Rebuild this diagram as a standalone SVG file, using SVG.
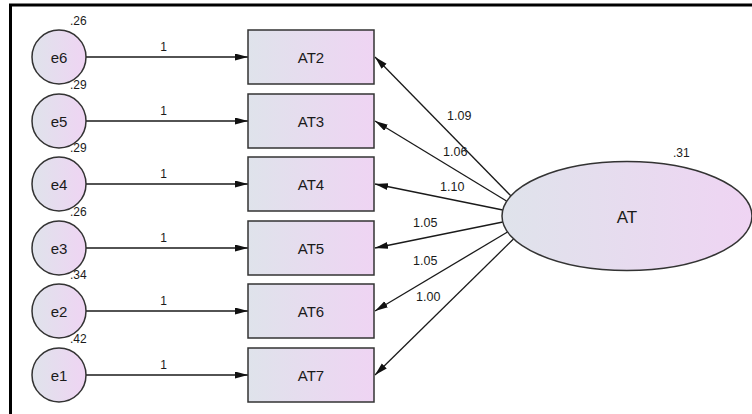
<svg xmlns="http://www.w3.org/2000/svg" width="752" height="414" viewBox="0 0 752 414">
  <style>
    text { font-family: "Liberation Sans", Arial, sans-serif; fill: #1a1a1a; }
    .var { font-size: 12px; }
    .coef { font-size: 12.5px; }
    .one { font-size: 12px; text-anchor: middle; }
    .name { font-size: 15px; text-anchor: middle; }
    .shape { fill: url(#fillGrad); stroke: #333; stroke-width: 1.5; }
    .path { stroke: #1a1a1a; stroke-width: 1.3; fill: none; marker-end: url(#arrow); }
    .frame { stroke: #000; stroke-width: 3; fill: none; }
  </style>
  <defs>
    <linearGradient id="fillGrad" x1="0" y1="0" x2="1" y2="0">
      <stop offset="0" stop-color="#dfe3eb"/>
      <stop offset="1" stop-color="#efd4f3"/>
    </linearGradient>
    <marker id="arrow" markerUnits="userSpaceOnUse" markerWidth="14" markerHeight="8" refX="13" refY="3.5" orient="auto">
      <path d="M0,0 L13,3.5 L0,7 Z" fill="#111"/>
    </marker>
  </defs>

  <rect width="752" height="414" fill="#fff"/>
  <!-- frame: top and left rules -->
  <path class="frame" d="M10.5,414 V5 H752"/>

  <!-- connectors -->
  <g id="connectors">
    <line class="path" x1="86" y1="57" x2="248" y2="57"/>
    <line class="path" x1="86" y1="121" x2="248" y2="121"/>
    <line class="path" x1="86" y1="184" x2="248" y2="184"/>
    <line class="path" x1="86" y1="248" x2="248" y2="248"/>
    <line class="path" x1="86" y1="311" x2="248" y2="311"/>
    <line class="path" x1="86" y1="375" x2="248" y2="375"/>

    <line class="path" x1="511" y1="196" x2="375" y2="57"/>
    <line class="path" x1="506.5" y1="201" x2="375" y2="121"/>
    <line class="path" x1="502.8" y1="210" x2="375" y2="184"/>
    <line class="path" x1="502.8" y1="222" x2="375" y2="248"/>
    <line class="path" x1="507.5" y1="232" x2="375" y2="311"/>
    <line class="path" x1="513.5" y1="239" x2="375" y2="375"/>

    <text class="one" x="163.5" y="51">1</text>
    <text class="one" x="163.5" y="115">1</text>
    <text class="one" x="163.5" y="178">1</text>
    <text class="one" x="163.5" y="242">1</text>
    <text class="one" x="163.5" y="305">1</text>
    <text class="one" x="163.5" y="369">1</text>

    <text class="coef" x="447" y="120">1.09</text>
    <text class="coef" x="443" y="156">1.06</text>
    <text class="coef" x="440" y="191">1.10</text>
    <text class="coef" x="413" y="227">1.05</text>
    <text class="coef" x="413" y="265">1.05</text>
    <text class="coef" x="416" y="301">1.00</text>
  </g>

  <!-- error terms -->
  <g id="e6">
    <circle class="shape" cx="59" cy="57" r="27"/>
    <text class="name" x="59" y="63">e6</text>
    <text class="var" x="70" y="25">.26</text>
  </g>
  <g id="e5">
    <circle class="shape" cx="59" cy="121" r="27"/>
    <text class="name" x="59" y="127">e5</text>
    <text class="var" x="70" y="89">.29</text>
  </g>
  <g id="e4">
    <circle class="shape" cx="59" cy="184" r="27"/>
    <text class="name" x="59" y="190">e4</text>
    <text class="var" x="70" y="152">.29</text>
  </g>
  <g id="e3">
    <circle class="shape" cx="59" cy="248" r="27"/>
    <text class="name" x="59" y="254">e3</text>
    <text class="var" x="70" y="216">.26</text>
  </g>
  <g id="e2">
    <circle class="shape" cx="59" cy="311" r="27"/>
    <text class="name" x="59" y="317">e2</text>
    <text class="var" x="70" y="279">.34</text>
  </g>
  <g id="e1">
    <circle class="shape" cx="59" cy="375" r="27"/>
    <text class="name" x="59" y="381">e1</text>
    <text class="var" x="70" y="343">.42</text>
  </g>

  <!-- observed indicators -->
  <g id="AT2">
    <rect class="shape" x="248" y="30" width="126" height="54"/>
    <text class="name" x="311" y="63">AT2</text>
  </g>
  <g id="AT3">
    <rect class="shape" x="248" y="94" width="126" height="54"/>
    <text class="name" x="311" y="127">AT3</text>
  </g>
  <g id="AT4">
    <rect class="shape" x="248" y="157" width="126" height="54"/>
    <text class="name" x="311" y="190">AT4</text>
  </g>
  <g id="AT5">
    <rect class="shape" x="248" y="221" width="126" height="54"/>
    <text class="name" x="311" y="254">AT5</text>
  </g>
  <g id="AT6">
    <rect class="shape" x="248" y="284" width="126" height="54"/>
    <text class="name" x="311" y="317">AT6</text>
  </g>
  <g id="AT7">
    <rect class="shape" x="248" y="348" width="126" height="54"/>
    <text class="name" x="311" y="381">AT7</text>
  </g>

  <!-- latent factor -->
  <g id="AT">
    <ellipse class="shape" cx="627" cy="216" rx="125" ry="54.5"/>
    <text x="627" y="223" font-size="17" text-anchor="middle">AT</text>
    <text class="var" x="673" y="157">.31</text>
  </g>
</svg>
